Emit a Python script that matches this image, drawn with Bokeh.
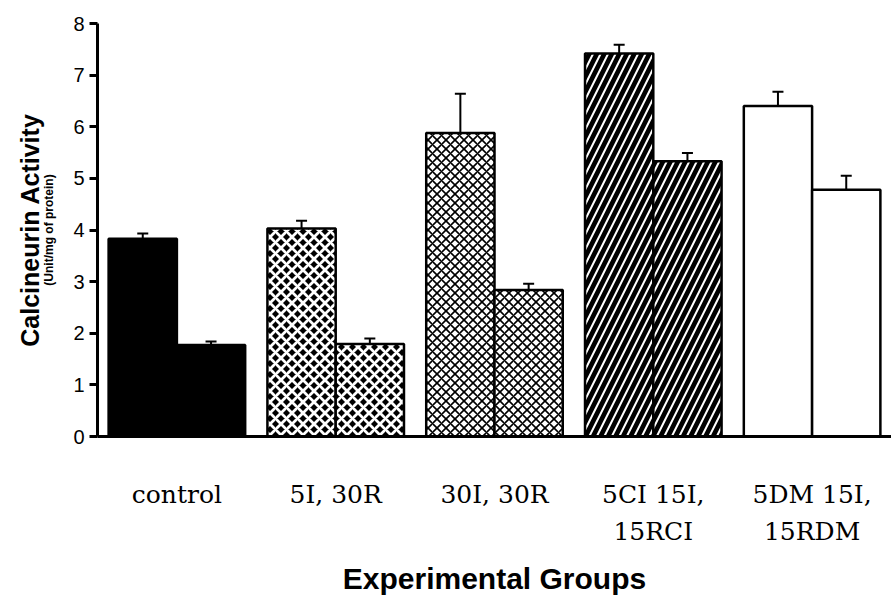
from bokeh.plotting import figure
from bokeh.models import (Range1d, FactorRange, LinearAxis, FixedTicker,
                          ColumnDataSource, Whisker, TeeHead)
from bokeh.transform import dodge
from bokeh.core.properties import field
from bokeh.embed import file_html
from bokeh.resources import INLINE

# ---- data ----
groups = ["control", "5I, 30R", "30I, 30R", "5CI 15I,\n15RCI", "5DM 15I,\n15RDM"]
first_bar = [3.83, 4.03, 5.88, 7.42, 6.40]
first_err = [0.10, 0.15, 0.76, 0.17, 0.28]
second_bar = [1.77, 1.79, 2.84, 5.33, 4.78]
second_err = [0.07, 0.11, 0.12, 0.16, 0.27]
y_ticks = [0, 1, 2, 3, 4, 5, 6, 7, 8]

# ---- styles per group ----
fill_colors = ["black", "black", "white", "black", "white"]
hatch_colors = ["black", "white", "black", "white", "black"]
hatch_patterns = [" ", "diagonal_cross", "diagonal_cross", "right_diagonal_line", " "]
hatch_scales = [10, 11, 9, 15, 10]
hatch_weights = [1.0, 2.8, 1.6, 2.0, 1.0]

src = ColumnDataSource(dict(
    group=groups,
    first=first_bar,
    first_top=[v + e for v, e in zip(first_bar, first_err)],
    second=second_bar,
    second_top=[v + e for v, e in zip(second_bar, second_err)],
    fill=fill_colors, hatch=hatch_colors, hp=hatch_patterns,
    hs=hatch_scales, hw=hatch_weights,
))

p = figure(width=891, height=598, output_backend="svg", toolbar_location=None,
           x_range=FactorRange(factors=groups), y_range=Range1d(0, 8),
           min_border_left=97, min_border_top=23, min_border_right=0, min_border_bottom=10)
p.outline_line_color = None
p.xgrid.grid_line_color = None
p.ygrid.grid_line_color = None
p.background_fill_color = "white"
p.border_fill_color = "white"

BW = 0.43
OFF = 0.215
for key, off in (("first", -OFF), ("second", OFF)):
    p.vbar(x=dodge("group", off, range=p.x_range), top=key, width=BW, source=src,
           fill_color="fill", line_color="black", line_width=2.5,
           hatch_pattern=field("hp"), hatch_color="hatch",
           hatch_scale="hs", hatch_weight="hw")
    w = Whisker(source=src, base=dodge("group", off, range=p.x_range),
                lower=key, upper=key + "_top", dimension="height",
                line_color="black", line_width=2,
                upper_head=TeeHead(size=11, line_width=2, line_color="black"),
                lower_head=None)
    p.add_layout(w)

# ---- x axis ----
xa = p.xaxis[0]
xa.axis_line_width = 3
xa.axis_line_color = "black"
xa.major_tick_line_color = None
xa.major_tick_out = 0
xa.major_tick_in = 0
xa.major_label_standoff = 43
xa.major_label_text_font = "DejaVu Serif"
xa.major_label_text_font_size = "25px"
xa.major_label_text_color = "black"
xa.major_label_text_line_height = 1.3
xa.axis_label = "Experimental Groups"
xa.axis_label_text_font = "Liberation Sans"
xa.axis_label_text_font_style = "bold"
xa.axis_label_text_font_size = "30px"
xa.axis_label_text_color = "black"
xa.axis_label_standoff = 13

# ---- y axes ----
ya = p.yaxis[0]
ya.ticker = FixedTicker(ticks=y_ticks)
ya.axis_line_width = 3
ya.axis_line_color = "black"
ya.major_tick_line_width = 3
ya.major_tick_line_color = "black"
ya.major_tick_out = 8
ya.major_tick_in = 0
ya.minor_tick_line_color = None
ya.major_label_standoff = 5
ya.major_label_text_font = "Liberation Sans"
ya.major_label_text_font_size = "20px"
ya.major_label_text_color = "black"
ya.axis_label = "(Unit/mg of protein)"
ya.axis_label_text_font = "Liberation Sans"
ya.axis_label_text_font_style = "bold"
ya.axis_label_text_font_size = "12px"
ya.axis_label_text_color = "black"
ya.axis_label_standoff = 14

ya2 = LinearAxis(ticker=FixedTicker(ticks=[]), axis_line_color=None,
                 major_tick_out=0, major_tick_in=0, minor_tick_out=0, minor_tick_in=0,
                 major_label_standoff=0,
                 axis_label="Calcineurin Activity", axis_label_text_font="Liberation Sans",
                 axis_label_text_font_style="bold", axis_label_text_font_size="25px",
                 axis_label_text_color="black", axis_label_standoff=-4)
p.add_layout(ya2, "left")

open("out.html", "w").write(file_html(p, INLINE))
